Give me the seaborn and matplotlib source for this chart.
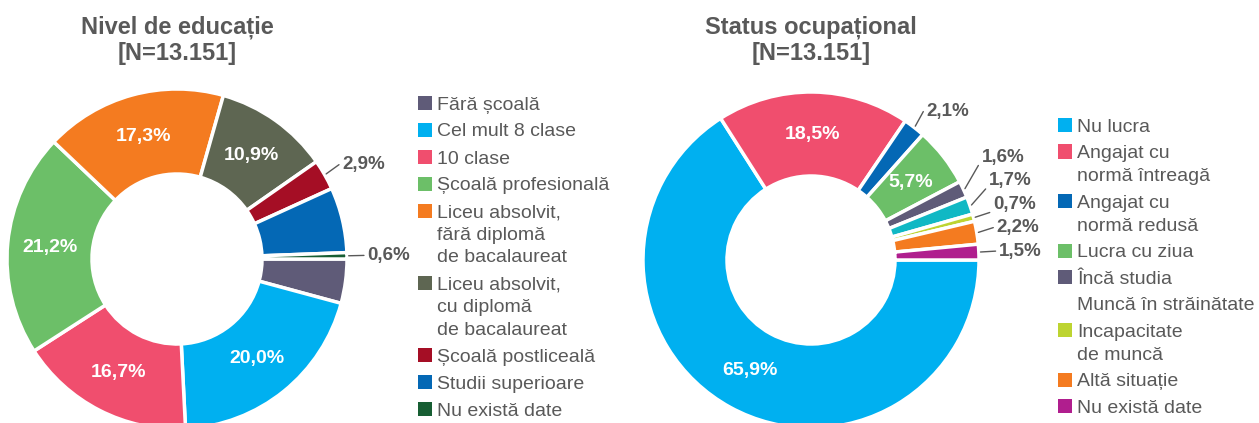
import numpy as np
import matplotlib.pyplot as plt
import seaborn as sns
from matplotlib.patches import Rectangle

sns.set_theme(style='white')
plt.rcParams['font.family'] = ['Liberation Sans', 'DejaVu Sans']

# Data
edu_labels = ['Fără școală', 'Cel mult 8 clase', '10 clase', 'Școală profesională',
              'Liceu absolvit,\nfără diplomă\nde bacalaureat',
              'Liceu absolvit,\ncu diplomă\nde bacalaureat',
              'Școală postliceală', 'Studii superioare', 'Nu există date']
edu_values = [4.2, 20.0, 16.7, 21.2, 17.3, 10.9, 2.9, 6.2, 0.6]
edu_shown = [False, True, True, True, True, True, True, False, True]
edu_colors = ['#5F5B78', '#00B0F0', '#F04E6E', '#6CBF68', '#F47B20',
              '#5E6652', '#A50E25', '#0468B5', '#175E33']

job_labels = ['Nu lucra', 'Angajat cu\nnormă întreagă', 'Angajat cu\nnormă redusă',
              'Lucra cu ziua', 'Încă studia', 'Muncă în străinătate',
              'Incapacitate\nde muncă', 'Altă situație', 'Nu există date']
job_values = [65.9, 18.5, 2.1, 5.7, 1.6, 1.7, 0.7, 2.2, 1.5]
job_shown = [True] * 9
job_colors = ['#00B0F0', '#F04E6E', '#0468B5', '#6CBF68', '#5F5B78',
              '#10B8C4', '#BDD431', '#F47B20', '#B01E8E']
job_legend_marker = [True, True, True, True, True, False, True, True, True]

GRAY = '#595959'
W, H = 1259, 423
fig = plt.figure(figsize=(W / 100, H / 100), dpi=100)


def px_axes(cx, cy, r):
    # square axes so that radius 1 maps to r pixels
    return fig.add_axes([(cx - r) / W, (H - cy - r) / H, 2 * r / W, 2 * r / H])


def donut(ax, values, colors, shown, inside_min):
    wedges, _ = ax.pie(values, colors=colors, startangle=0, counterclock=False,
                       radius=1.0, wedgeprops=dict(width=0.5, edgecolor='white', linewidth=2.5))
    ax.set_xlim(-1, 1)
    ax.set_ylim(-1, 1)
    ax.set_aspect('equal')
    ax.axis('off')
    outside = []
    for w, v, s in zip(wedges, values, shown):
        if not s:
            continue
        mid = np.deg2rad((w.theta1 + w.theta2) / 2)
        txt = f'{v:.1f}%'.replace('.', ',')
        if v >= inside_min:
            ax.text(0.75 * np.cos(mid), 0.75 * np.sin(mid), txt, ha='center', va='center',
                    color='white', fontsize=14, fontweight='bold')
        else:
            outside.append([mid, txt, 1.12 * np.sin(mid)])
    # push outside labels apart vertically
    outside.sort(key=lambda o: o[2])
    for i in range(1, len(outside)):
        outside[i][2] = max(outside[i][2], outside[i - 1][2] + 0.14)
    for mid, txt, ty in outside:
        tx = 1.12 * np.cos(mid)
        x0, y0 = 1.01 * np.cos(mid), 1.01 * np.sin(mid)
        shifted = ty - 1.12 * np.sin(mid) > 0.02
        ax.plot([x0, tx - 0.02], [y0, ty - (0.05 if shifted else 0)], color=GRAY, lw=1,
                clip_on=False)
        ax.text(tx, ty, txt, ha='left', va='center', color=GRAY,
                fontsize=13.5, fontweight='bold', clip_on=False)


def legend(x, y0, labels, colors, markers, line_h, gap):
    y = y0
    for lab, col, m in zip(labels, colors, markers):
        if m:
            fig.patches.append(Rectangle((x / W, (H - y - 7) / H), 14 / W, 14 / H,
                                         transform=fig.transFigure, facecolor=col,
                                         edgecolor='none'))
        for line in lab.split('\n'):
            fig.text((x + 19) / W, (H - y) / H, line, ha='left', va='center_baseline',
                     color=GRAY, fontsize=14)
            y += line_h
        y += gap


ax1 = px_axes(177, 259, 170)
donut(ax1, edu_values, edu_colors, edu_shown, 5)
ax2 = px_axes(811, 260, 168)
donut(ax2, job_values, job_colors, job_shown, 5)

fig.text(177 / W, 1 - 40 / H, 'Nivel de educație\n[N=13.151]', ha='center', va='center',
         color=GRAY, fontsize=17, fontweight='bold', linespacing=1.15)
fig.text(811 / W, 1 - 40 / H, 'Status ocupațional\n[N=13.151]', ha='center', va='center',
         color=GRAY, fontsize=17, fontweight='bold', linespacing=1.15)

legend(418, 103, edu_labels, edu_colors, [True] * 9, 22.5, 4.5)
legend(1058, 125, job_labels, job_colors, job_legend_marker, 23, 3.5)

fig.savefig('out.png', dpi=100, facecolor='white')
